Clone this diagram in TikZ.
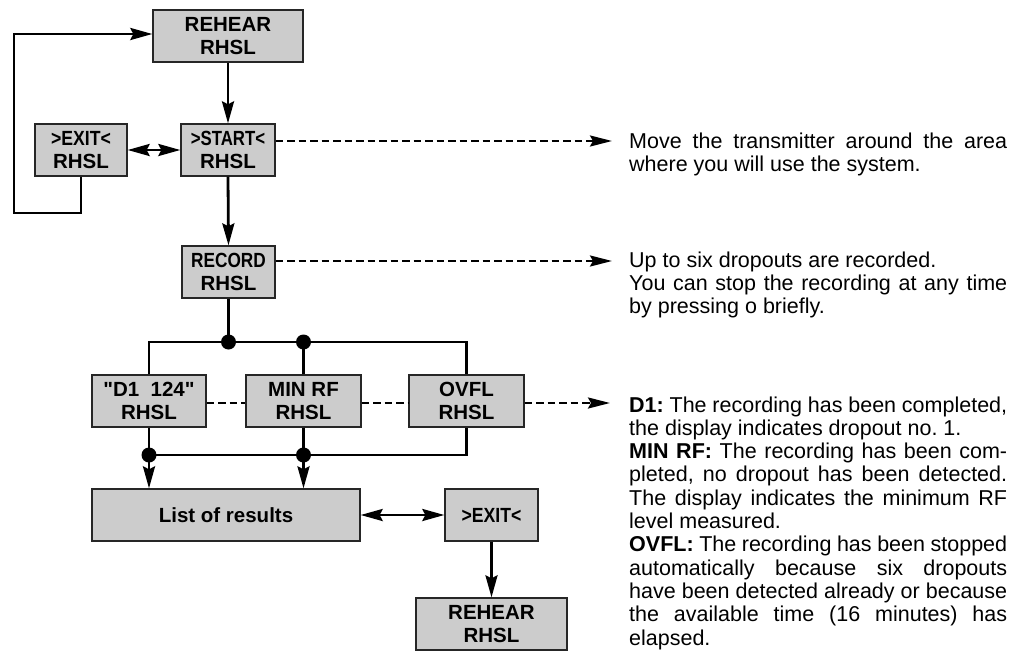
\documentclass[tikz,border=0pt]{standalone}
\usepackage{fontspec}
\setmainfont{Liberation Sans}
\usepackage{graphicx}
\usetikzlibrary{arrows.meta}
\newcommand\dquo{\XeTeXglyph\XeTeXcharglyph"22\relax}
\tikzset{
  box/.style={draw=black!85, line width=1.3pt, fill=black!20, minimum height=52pt,
    inner sep=0pt, align=center, font=\fontsize{20.5}{23}\selectfont\bfseries},
  conn/.style={line width=2.8pt},
  tipS/.tip={Stealth[length=22pt,width=12pt,inset=3pt]},
  arr/.style={conn, -tipS},
  darr/.style={conn, tipS-tipS},
  dline/.style={line width=2.4pt, dash pattern=on 7.5pt off 4pt},
  darrow/.style={dline, -{Stealth[length=22pt,width=11pt,inset=3pt]}},
  dot/.style={circle, fill=black, inner sep=0pt, minimum size=15pt},
  body/.style={anchor=base west, inner sep=0pt, font=\fontsize{21.5}{23.3}\selectfont\frenchspacing}
}
\begin{document}
\begin{tikzpicture}[x=1pt,y=-1pt]
\useasboundingbox (0,0) rectangle (1026,651);

% boxes
\node[box, minimum width=150pt] (reh1) at (228,36) {REHEAR\\RHSL};
\node[box, minimum width=92pt] (exitA) at (81,150) {\scalebox{0.86}[1]{>EXIT<}\\RHSL};
\node[box, minimum width=94pt] (start) at (228,150) {\scalebox{0.82}[1]{>START<}\\RHSL};
\node[box, minimum width=93pt] (record) at (228.5,272) {\scalebox{0.84}[1]{RECORD}\\RHSL};
\node[box, minimum width=114pt] (d1) at (149,401) {\dquo D1\ \ 124\dquo\\RHSL};
\node[box, minimum width=115pt] (minrf) at (303.5,401) {MIN RF\\RHSL};
\node[box, minimum width=115pt] (ovfl) at (466.5,401) {OVFL\\RHSL};
\node[box, minimum width=268pt] (list) at (226,515) {List of results};
\node[box, minimum width=93pt] (exitB) at (491.5,515) {\scalebox{0.86}[1]{>EXIT<}};
\node[box, minimum width=151pt] (reh2) at (491.5,624) {REHEAR\\RHSL};

% helper coordinates
\coordinate (lpA) at (14,213);
\coordinate (lpB) at (14,34);
\coordinate (bus) at (0,342);
\coordinate (bus2) at (0,455);
\coordinate (yd) at (0,403);
\coordinate (t1) at (612,141);
\coordinate (t2) at (612,261);
\coordinate (t3) at (610,403);

% solid connectors
\draw[arr] (reh1.south) -- (start.north);
\draw[arr] (start.south) -- (record.north);
\draw[darr] (exitA.east) -- (start.west);
\draw[arr] (exitA.south) |- (lpA) -- (lpB) -- (reh1.west |- lpB);

\draw[conn] (record.south) -- (record.south |- bus);
\draw[conn] (d1.north) |- (bus -| ovfl.north) -- (ovfl.north);
\draw[conn] (minrf.north) -- (minrf.north |- bus);
\node[dot] (dA) at (record.south |- bus) {};
\node[dot] (dB) at (minrf.north |- bus) {};

\draw[conn] (d1.south) -- (d1.south |- bus2) -- (bus2 -| ovfl.south) -- (ovfl.south);
\draw[conn] (minrf.south) -- (minrf.south |- bus2);
\node[dot] (dC) at (d1.south |- bus2) {};
\node[dot] (dD) at (minrf.south |- bus2) {};
\draw[arr] (dC.center) -- (d1.south |- list.north);
\draw[arr] (dD.center) -- (minrf.south |- list.north);

\draw[darr] (list.east) -- (exitB.west);
\draw[arr] (exitB.south) -- (reh2.north);

% dashed connectors
\draw[darrow] ([yshift=9pt]start.east) -- (t1);
\draw[darrow] ([yshift=11pt]record.east) -- (t2);
\draw[dline] (d1.east |- yd) -- (minrf.west |- yd);
\draw[dline] (minrf.east |- yd) -- (ovfl.west |- yd);
\draw[darrow] (ovfl.east |- yd) -- (t3);

% texts
\node[body] (txA) at (629,148) {\vtop{%
  \hbox to 378pt{Move the transmitter around the area}%
  \hbox{where you will use the system.}}};
\node[body] (txB) at (629,267) {\vtop{%
  \hbox{Up to six dropouts are recorded.}%
  \hbox to 378pt{You can stop the recording at any time}%
  \hbox{by pressing o briefly.}}};
\node[body] (txC) at (629,412) {\vtop{%
  \hbox to 378pt{\textbf{D1:} The recording has been completed,}%
  \hbox{the display indicates dropout no. 1.}%
  \hbox to 378pt{\textbf{MIN RF:} The recording has been com-}%
  \hbox to 378pt{pleted, no dropout has been detected.}%
  \hbox to 378pt{The display indicates the minimum RF}%
  \hbox{level measured.}%
  \hbox to 378pt{\textbf{OVFL:} The recording has been stopped}%
  \hbox to 378pt{automatically because six dropouts}%
  \hbox to 378pt{have been detected already or because}%
  \hbox to 378pt{the available time (16 minutes) has}%
  \hbox{elapsed.}}};
\end{tikzpicture}
\end{document}
